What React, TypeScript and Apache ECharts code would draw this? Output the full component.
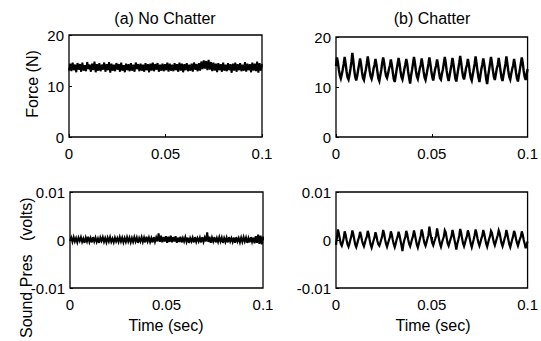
import React, { useEffect, useRef } from "react";
import * as echarts from "echarts";

const xTicks = [0, 0.05, 0.1];
const forceTicks = [0, 10, 20];
const soundTicks = [-0.01, 0, 0.01];
const titles = ["(a) No Chatter", "(b) Chatter"];
const yNames = ["Force (N)", "Sound Pres   (volts)"];
const xName = "Time (sec)";

// Force, no chatter (N)
const forceNoChatter = [
  13.0,14.4,12.9,14.6,13.1,14.2,12.7,14.5,13.2,14.3,
  12.8,14.6,13.0,14.1,12.9,14.7,13.3,14.2,12.8,14.4,
  13.1,14.8,12.7,14.3,13.0,14.5,12.9,14.2,13.2,14.6,
  12.8,14.3,13.1,14.7,12.6,14.4,13.0,14.2,12.9,14.5,
  13.2,14.3,12.8,14.6,13.0,14.1,12.7,14.4,13.1,14.3,
  12.9,14.5,13.0,14.2,12.8,14.6,13.3,14.3,12.9,14.4,
  13.0,14.2,12.8,14.5,13.1,14.3,12.7,14.4,13.0,14.6,
  12.9,14.3,13.2,14.5,12.8,14.2,13.0,14.4,12.9,14.3,
  13.1,14.6,12.8,14.4,13.0,14.2,12.9,14.5,13.1,14.3,
  12.8,14.6,13.0,14.4,12.7,14.3,13.1,14.5,12.9,14.2,
  13.0,14.4,12.8,14.6,13.2,14.3,12.9,14.5,13.0,14.8,
  13.3,15.0,13.4,14.9,13.1,15.1,13.2,14.7,12.9,14.6,
  13.0,14.4,12.7,14.5,13.1,14.3,12.8,14.6,13.0,14.2,
  12.9,14.5,13.1,14.3,12.6,14.4,13.0,14.6,12.8,14.3,
  13.1,14.5,12.9,14.2,13.0,14.7,12.8,14.4,13.1,14.3,
  12.7,14.6,13.0,14.4,12.9,14.8,12.6,14.5,13.0,14.3,
];

// Force, chatter (N)
const forceChatter = [
  14.2,15.9,14.9,13.4,12.3,11.7,12.5,13.5,
  14.6,16.0,14.7,13.1,11.9,11.5,12.4,13.6,
  15.0,16.8,15.2,13.3,12.0,11.3,12.2,13.4,
  14.5,15.7,14.6,13.0,11.8,11.4,12.5,13.5,
  14.7,16.1,14.8,13.2,12.1,11.6,12.4,13.7,
  14.4,15.6,14.5,13.1,11.7,11.2,12.3,13.4,
  14.8,15.9,14.9,13.3,12.2,11.8,12.6,13.6,
  14.3,15.5,14.4,12.9,11.6,11.0,12.2,13.5,
  14.6,15.8,14.7,13.2,12.0,11.5,12.5,13.6,
  14.5,15.6,14.6,13.0,11.8,10.7,12.3,13.4,
  14.7,16.0,14.8,13.3,12.1,11.6,12.6,13.7,
  14.4,15.7,14.5,13.1,11.9,11.4,12.4,13.5,
  14.6,15.9,14.7,13.2,12.0,11.3,12.5,13.6,
  14.3,15.5,14.4,13.0,11.8,11.5,12.6,13.5,
  14.7,16.0,14.8,13.2,12.0,11.2,12.3,13.4,
  14.5,15.8,14.6,13.1,11.7,11.1,12.4,13.6,
  14.8,16.2,14.9,13.3,12.1,11.5,12.5,13.7,
  14.4,15.6,14.5,13.0,11.8,11.3,12.4,13.5,
  14.6,16.1,14.7,13.2,11.9,11.0,12.3,13.6,
  14.5,15.7,14.6,13.1,11.6,10.6,12.2,13.4,
  14.7,16.0,14.8,13.3,12.0,11.4,12.5,13.7,
  14.4,15.8,14.5,13.1,11.8,11.2,12.4,13.5,
  14.6,16.1,14.7,13.2,12.0,11.5,12.6,13.6,
  14.3,15.6,14.4,12.9,11.7,11.1,12.3,13.5,
  14.7,15.9,14.8,13.2,12.0,11.4,12.5,13.6,
];

// Sound pressure, no chatter (volts)
const soundNoChatter = [
  -2e-4,5e-4,-4e-4,6e-4,-3e-4,4e-4,-5e-4,5e-4,-2e-4,6e-4,
  -4e-4,3e-4,-6e-4,5e-4,-3e-4,7e-4,-4e-4,4e-4,-5e-4,6e-4,
  -3e-4,5e-4,-4e-4,3e-4,-6e-4,5e-4,-2e-4,6e-4,-4e-4,4e-4,
  -5e-4,5e-4,-3e-4,6e-4,-4e-4,3e-4,-5e-4,5e-4,-3e-4,4e-4,
  -4e-4,6e-4,-3e-4,5e-4,-5e-4,4e-4,-4e-4,6e-4,-3e-4,5e-4,
  -5e-4,4e-4,-4e-4,6e-4,-3e-4,5e-4,-6e-4,4e-4,-3e-4,6e-4,
  -4e-4,5e-4,-5e-4,7e-4,-3e-4,5e-4,-4e-4,4e-4,-5e-4,6e-4,
  -4e-4,5e-4,-3e-4,14e-4,-4e-4,9e-4,-5e-4,6e-4,-3e-4,8e-4,
  -6e-4,7e-4,-4e-4,9e-4,-5e-4,6e-4,-3e-4,8e-4,-6e-4,5e-4,
  -4e-4,7e-4,-5e-4,4e-4,-3e-4,6e-4,-4e-4,5e-4,-6e-4,4e-4,
  -3e-4,5e-4,-5e-4,6e-4,-4e-4,4e-4,-3e-4,5e-4,-5e-4,6e-4,
  -4e-4,5e-4,-3e-4,16e-4,-4e-4,7e-4,-6e-4,5e-4,-3e-4,6e-4,
  -5e-4,4e-4,-4e-4,6e-4,-3e-4,5e-4,-6e-4,4e-4,-4e-4,5e-4,
  -5e-4,6e-4,-3e-4,4e-4,-4e-4,5e-4,-6e-4,6e-4,-3e-4,4e-4,
  -5e-4,5e-4,-4e-4,6e-4,-3e-4,5e-4,-6e-4,4e-4,-5e-4,6e-4,
  -4e-4,5e-4,-7e-4,8e-4,-6e-4,11e-4,-8e-4,9e-4,-9e-4,7e-4,
];

// Sound pressure, chatter (volts)
const soundChatter = [
  -10e-4,5e-4,22e-4,13e-4,2e-4,-8e-4,-12e-4,-5e-4,
  4e-4,18e-4,11e-4,0,-9e-4,-14e-4,-7e-4,1e-4,
  8e-4,20e-4,12e-4,1e-4,-10e-4,-15e-4,-8e-4,0,
  6e-4,17e-4,10e-4,-1e-4,-8e-4,-13e-4,-6e-4,2e-4,
  7e-4,19e-4,12e-4,0,-10e-4,-16e-4,-9e-4,-1e-4,
  5e-4,16e-4,9e-4,-2e-4,-9e-4,-12e-4,-6e-4,1e-4,
  8e-4,21e-4,13e-4,1e-4,-8e-4,-14e-4,-7e-4,0,
  6e-4,18e-4,11e-4,0,-9e-4,-15e-4,-8e-4,1e-4,
  7e-4,17e-4,10e-4,-1e-4,-11e-4,-23e-4,-9e-4,0,
  6e-4,19e-4,12e-4,1e-4,-8e-4,-13e-4,-6e-4,2e-4,
  8e-4,20e-4,11e-4,0,-10e-4,-16e-4,-8e-4,1e-4,
  9e-4,22e-4,14e-4,2e-4,-7e-4,-12e-4,-5e-4,3e-4,
  10e-4,28e-4,15e-4,3e-4,-6e-4,-11e-4,-4e-4,2e-4,
  9e-4,24e-4,13e-4,2e-4,-8e-4,-14e-4,-6e-4,1e-4,
  7e-4,20e-4,16e-4,4e-4,-7e-4,-12e-4,-5e-4,2e-4,
  8e-4,21e-4,12e-4,1e-4,-9e-4,-20e-4,-8e-4,0,
  9e-4,23e-4,15e-4,3e-4,-7e-4,-13e-4,-6e-4,2e-4,
  8e-4,20e-4,13e-4,2e-4,-8e-4,-15e-4,-7e-4,1e-4,
  10e-4,22e-4,14e-4,3e-4,-6e-4,-12e-4,-5e-4,3e-4,
  9e-4,21e-4,13e-4,2e-4,-8e-4,-14e-4,-6e-4,2e-4,
  8e-4,19e-4,15e-4,4e-4,-5e-4,-11e-4,-4e-4,3e-4,
  10e-4,20e-4,14e-4,3e-4,-7e-4,-13e-4,-6e-4,2e-4,
  9e-4,21e-4,12e-4,1e-4,-9e-4,-15e-4,-7e-4,1e-4,
  8e-4,19e-4,13e-4,2e-4,-6e-4,-12e-4,-5e-4,2e-4,
  7e-4,18e-4,11e-4,0,-8e-4,-17e-4,-10e-4,-3e-4,
];

const DURATION = 0.1;
const withTime = (vals: number[]) =>
  vals.map((v, i) => [(i * DURATION) / (vals.length - 1), v]);

const FONT = "'Liberation Sans', Arial, sans-serif";

export default function App() {
  const ref = useRef<HTMLDivElement>(null);
  useEffect(() => {
    if (!ref.current) return;
    const chart = echarts.init(ref.current, undefined, { renderer: "svg" });
    const grids = [
      { left: 69, top: 35, width: 193, height: 102 },
      { left: 336, top: 37, width: 192, height: 100 },
      { left: 70, top: 192, width: 193, height: 96 },
      { left: 336, top: 192, width: 192, height: 96 },
    ];
    const yTicksArr = [forceTicks, forceTicks, soundTicks, soundTicks];
    const data = [forceNoChatter, forceChatter, soundNoChatter, soundChatter];
    const widths = [2, 2.4, 2, 2.2];
    const labelStyle = { color: "#000", fontSize: 15, fontFamily: FONT };
    const txt = (text: string, x: number, y: number, extra: any = {}) => ({
      type: "text",
      x,
      y,
      ...extra,
      style: {
        text,
        fill: "#000",
        font: `16px ${FONT}`,
        align: "center",
        verticalAlign: "middle",
        ...(extra.style || {}),
      },
    });
    chart.setOption({
      animation: false,
      backgroundColor: "#fff",
      grid: grids.map((g) => ({
        ...g,
        show: true,
        borderColor: "#000",
        borderWidth: 1.3,
        backgroundColor: "transparent",
      })),
      xAxis: grids.map((_, i) => ({
        type: "value",
        gridIndex: i,
        min: xTicks[0],
        max: xTicks[2],
        interval: xTicks[1] - xTicks[0],
        axisLine: { show: false },
        axisTick: { show: true, inside: true, length: 3, lineStyle: { color: "#000" } },
        splitLine: { show: false },
        axisLabel: { ...labelStyle, margin: 9 },
      })),
      yAxis: grids.map((_, i) => {
        const t = yTicksArr[i];
        return {
          type: "value",
          gridIndex: i,
          min: t[0],
          max: t[2],
          interval: t[1] - t[0],
          axisLine: { show: false },
          axisTick: { show: true, inside: true, length: 3, lineStyle: { color: "#000" } },
          splitLine: { show: false },
          axisLabel: { ...labelStyle, margin: 5 },
        };
      }),
      series: data.map((d, i) => ({
        type: "line",
        xAxisIndex: i,
        yAxisIndex: i,
        data: withTime(d),
        showSymbol: false,
        symbol: "none",
        lineStyle: { color: "#000", width: widths[i], join: "miter" },
      })),
      graphic: [
        txt(titles[0], 165, 18),
        txt(titles[1], 432, 18),
        txt(yNames[0], 32, 84, { rotation: Math.PI / 2 }),
        txt(yNames[1], 26, 338, { rotation: Math.PI / 2, style: { align: "left" } }),
        { type: "rect", shape: { x: 12, y: 140, width: 28, height: 29 }, style: { fill: "#fff" }, z: 100 },
        txt(xName, 166, 325),
        txt(xName, 433, 325),
      ],
    });
    return () => chart.dispose();
  }, []);
  return (
    <div
      ref={ref}
      style={{ position: "fixed", left: 0, top: 0, width: 541, height: 341 }}
    />
  );
}
